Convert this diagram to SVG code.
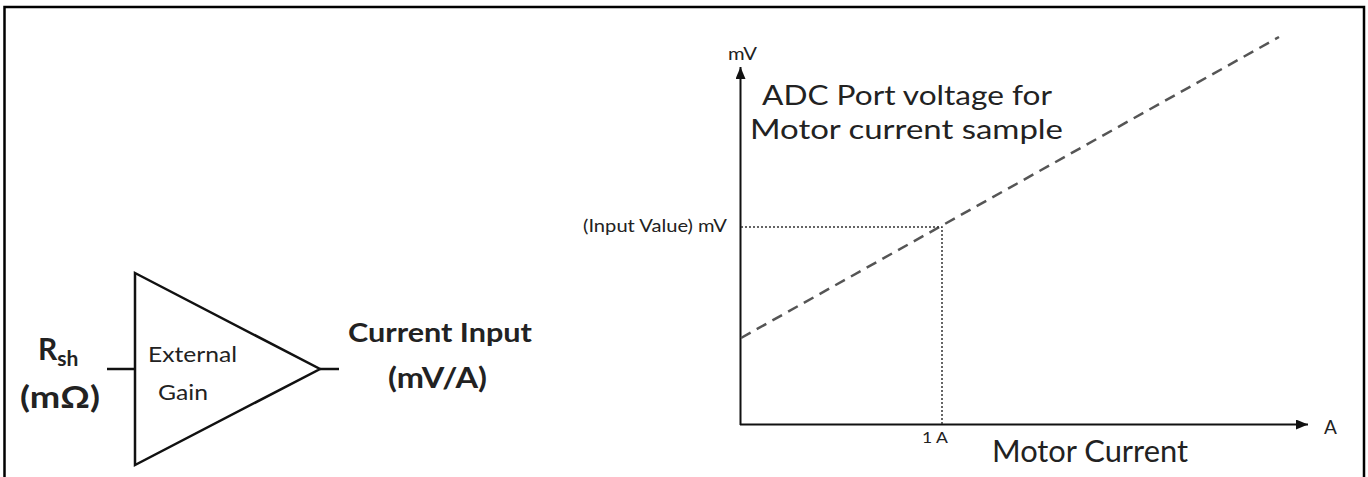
<svg xmlns="http://www.w3.org/2000/svg" width="1368" height="477" viewBox="0 0 1368 477">
<style>
.t{font-family:Lato,"Open Sans","Liberation Sans",sans-serif;fill:#222}
.b{font-weight:bold}
.ln{stroke:#111;fill:none}
</style>
<defs>
<marker id="ah" viewBox="0 0 12 10" refX="12" refY="5" markerWidth="12" markerHeight="10" markerUnits="userSpaceOnUse" orient="auto">
<path d="M0,0 L12,5 L0,10 Z" fill="#111"/>
</marker>
</defs>
<rect width="1368" height="477" fill="#fff"/>
<path d="M4.5,477 V7 H1364 V477" stroke="#000" stroke-width="2.5" fill="none"/>
<g id="amplifier">
<path class="ln" d="M135,273 L320,369 L135,465 Z" stroke-width="2.5"/>
<text class="t" x="148" y="362" font-size="21" textLength="89" lengthAdjust="spacingAndGlyphs">External</text>
<text class="t" x="158" y="400" font-size="21" textLength="50" lengthAdjust="spacingAndGlyphs">Gain</text>
</g>
<g id="rsh">
<text class="t b" x="38" y="360" font-size="30">R<tspan font-size="21" dy="6">sh</tspan></text>
<text class="t b" x="20" y="408" font-size="30" textLength="80" lengthAdjust="spacingAndGlyphs">(mΩ)</text>
</g>
<g id="current-input">
<text class="t b" x="348" y="342" font-size="27" textLength="184" lengthAdjust="spacingAndGlyphs">Current Input</text>
<text class="t b" x="388" y="388" font-size="28" textLength="99" lengthAdjust="spacingAndGlyphs">(mV/A)</text>
</g>
<g id="connectors">
<line class="ln" x1="107" y1="369" x2="135" y2="369" stroke-width="2.5"/>
<line class="ln" x1="320" y1="369" x2="339" y2="369" stroke-width="2.5"/>
</g>
<g id="chart">
<line class="ln" x1="740.5" y1="425" x2="740.5" y2="67" stroke-width="2" marker-end="url(#ah)"/>
<line class="ln" x1="740" y1="424.5" x2="1308" y2="424.5" stroke-width="2" marker-end="url(#ah)"/>
<line x1="741" y1="338" x2="1279" y2="37" stroke="#555" stroke-width="2.5" stroke-dasharray="11,7"/>
<path d="M741,227 H942 V424" stroke="#333" stroke-width="1.5" fill="none" stroke-dasharray="2,2"/>
<text class="t" x="728" y="60" font-size="18" textLength="29" lengthAdjust="spacingAndGlyphs">mV</text>
<text class="t" x="1324" y="434" font-size="19">A</text>
<text class="t" font-size="27"><tspan x="762" y="105" textLength="290" lengthAdjust="spacingAndGlyphs">ADC Port voltage for</tspan><tspan x="750" y="139" textLength="313" lengthAdjust="spacingAndGlyphs">Motor current sample</tspan></text>
<text class="t" x="583" y="232" font-size="17" textLength="144" lengthAdjust="spacingAndGlyphs">(Input Value) mV</text>
<text class="t" x="922" y="443" font-size="16" textLength="26" lengthAdjust="spacingAndGlyphs">1 A</text>
<text class="t" x="992" y="462" font-size="30" textLength="196" lengthAdjust="spacingAndGlyphs">Motor Current</text>
</g>
</svg>
